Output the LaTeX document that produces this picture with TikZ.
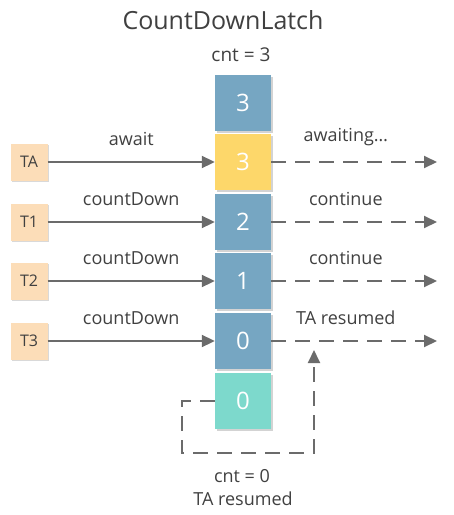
\documentclass[tikz,border=0pt]{standalone}
\usepackage{fontspec}
\setmainfont{Open Sans}
\usetikzlibrary{arrows.meta,shadows}
\definecolor{cellblue}{HTML}{76A6C2}
\definecolor{cellyellow}{HTML}{FDD76A}
\definecolor{cellteal}{HTML}{7DD9CC}
\definecolor{threadpeach}{HTML}{FCDDB8}
\definecolor{linegray}{HTML}{6B6B6B}
\definecolor{textgray}{HTML}{404040}
\begin{document}
\begin{tikzpicture}[x=1pt,y=-1pt,text=textgray,
    font=\fontsize{18}{21}\selectfont,
    cell/.style ={rectangle, inner sep=0pt, minimum width=56pt, minimum height=56pt,
        text=white, font=\fontsize{24}{26}\selectfont,
        drop shadow={opacity=0.35, shadow xshift=1.5pt, shadow yshift=-1.5pt}},
    thread/.style ={rectangle, fill=threadpeach, inner sep=0pt, minimum size=37pt,
        font=\fontsize{16}{18}\selectfont,
        drop shadow={opacity=0.3, shadow xshift=1.5pt, shadow yshift=-1.5pt}},
    flow/.style ={draw=linegray, line width=2pt, -{Triangle[length=13pt,width=12pt]}},
    wait/.style ={flow, dash pattern=on 15pt off 9pt},
    back/.style ={draw=linegray, line width=2pt, dash pattern=on 15pt off 9pt,
        -{Triangle[length=13pt,width=12pt]}}]
  \useasboundingbox (0,0) rectangle (454,515);
  \node[font=\fontsize{25}{28}\selectfont] (title) at (223,20) {CountDownLatch};
  \node[font=\fontsize{19}{22}\selectfont] (cnt3) at (241,55) {cnt = 3};
  % counter column
  \foreach \v/\y/\c [count=\i] in {3/103/cellblue, 3/162/cellyellow, 2/222/cellblue,
      1/281/cellblue, 0/341/cellblue, 0/401/cellteal}
    \node[cell, fill=\c] (c\i) at (243,\y) {\v};
  % threads
  \foreach \t/\j/\y/\a/\b in {TA/2/162/await/awaiting\ldots, T1/3/222/countDown/continue,
      T2/4/281/countDown/continue, T3/5/341/countDown/TA resumed} {
    \node[thread] (\t) at (29,\y) {\t};
    \coordinate (e\j) at (437,\y);
    \draw[flow] (\t) -- node[midway, above=12pt] {\a} (c\j);
    \draw[wait] (c\j) -- node[pos=0.45, above=12pt] {\b} (e\j);
  }
  % release path
  \coordinate (l1) at (182,401);
  \coordinate (l2) at (182,453);
  \coordinate (l3) at (314,453);
  \coordinate (l4) at (314,350);
  \draw[back] (c6) -- (l1) -- (l2) -- (l3) -- (l4);
  \node (cnt0) at (242,476) {cnt = 0};
  \node (res) at (243,499) {TA resumed};
\end{tikzpicture}
\end{document}
